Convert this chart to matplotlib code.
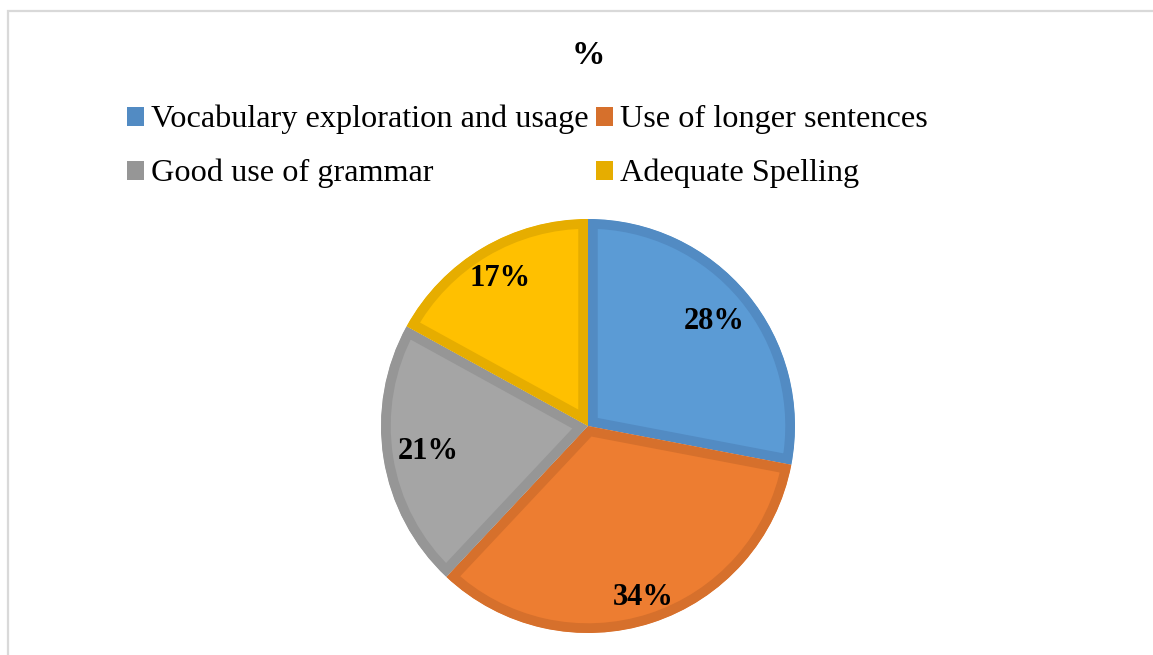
import matplotlib
matplotlib.use("Agg")
import matplotlib.pyplot as plt
from matplotlib.patches import Patch, Rectangle
import numpy as np

plt.rcParams['font.family'] = ['Liberation Serif', 'DejaVu Serif']

# share of each writing improvement (%)
categories = ["Vocabulary exploration and usage", "Use of longer sentences",
              "Good use of grammar", "Adequate Spelling"]
values = [28, 34, 21, 17]
fill_colors = ["#5B9BD5", "#ED7D31", "#A5A5A5", "#FFC000"]
edge_colors = ["#528BC3", "#D6702C", "#969696", "#E6AD00"]
label_r = [0.79, 0.87, 0.78, 0.83]

W, H = 1153, 655
fig = plt.figure(figsize=(W / 100, H / 100), dpi=100)

# light frame around the chart area
fig.add_artist(Rectangle((8 / W, -0.2), 1.2, 1.2 - 11 / H,
                         transform=fig.transFigure, fill=False,
                         edgecolor="#D9D9D9", linewidth=1.6))

# pie axes: centre at (588, 426) px, radius 207 px
cx, cy, r = 588, 426, 207
ax = fig.add_axes([(cx - r) / W, (H - cy - r) / H, 2 * r / W, 2 * r / H])
wedges, _ = ax.pie(values, colors=fill_colors, startangle=90, counterclock=False,
                   radius=1.0, wedgeprops=dict(linewidth=14))
for w, ec in zip(wedges, edge_colors):
    w.set_edgecolor(ec)
    # keep the border inside the slice
    w.set_clip_on(True)
    w.set_clip_path(w)
ax.set_xlim(-1, 1)
ax.set_ylim(-1, 1)
ax.set_aspect('equal')
ax.axis('off')

for w, v, lr in zip(wedges, values, label_r):
    ang = np.deg2rad((w.theta1 + w.theta2) / 2)
    ax.text(lr * np.cos(ang), lr * np.sin(ang), f"{v}%", ha='center', va='center',
            fontsize=22, fontweight='bold', color='black')

fig.text(cx / W, 1 - 55 / H, "%", ha='center', va='center',
         fontsize=24, fontweight='bold')

handles = [Patch(facecolor=c, edgecolor='none') for c in edge_colors]
order = [0, 2, 1, 3]
fig.legend([handles[i] for i in order], [categories[i] for i in order],
           loc='upper left', bbox_to_anchor=(127 / W, 1 - 105 / H), ncol=2,
           frameon=False, fontsize=23.2, handlelength=0.53, handleheight=0.53,
           handletextpad=0.2, columnspacing=0.25, labelspacing=0.76,
           borderpad=0, borderaxespad=0)

fig.savefig("out.png", dpi=100)
